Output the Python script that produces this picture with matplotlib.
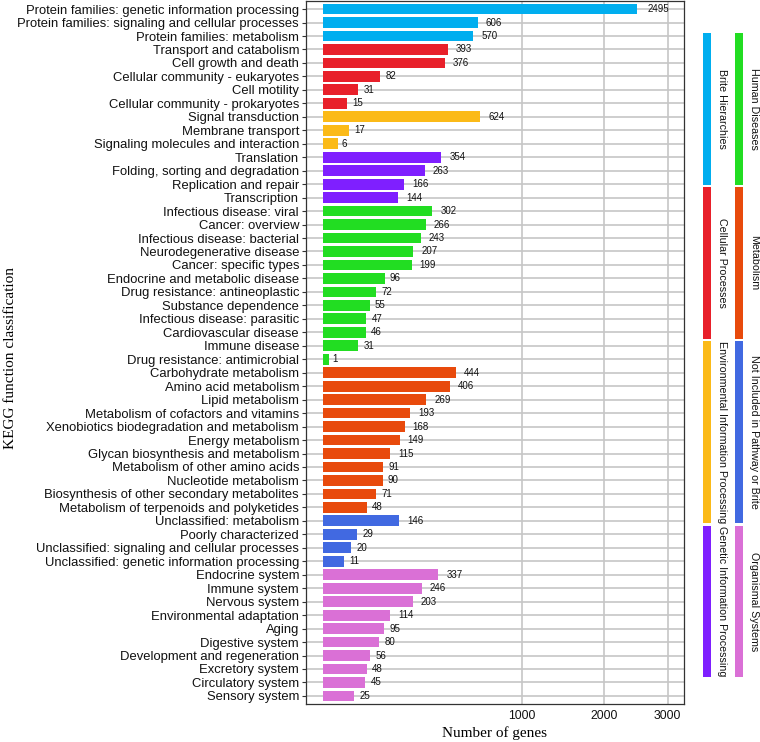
import numpy as np
import matplotlib
matplotlib.use("Agg")
import matplotlib.pyplot as plt
from matplotlib.patches import Rectangle

# ---------------- data ----------------
groups = ["Brite Hierarchies", "Cellular Processes",
          "Environmental Information Processing", "Genetic Information Processing",
          "Human Diseases", "Metabolism",
          "Not Included in Pathway or Brite", "Organismal Systems"]
group_colors = ["#00AEEF", "#E8202A", "#FBBA18", "#7F1FFF",
                "#22DD22", "#E84A0C", "#4169E1", "#DA70D6"]

categories = [
    "Protein families: genetic information processing",
    "Protein families: signaling and cellular processes",
    "Protein families: metabolism",
    "Transport and catabolism", "Cell growth and death",
    "Cellular community - eukaryotes", "Cell motility",
    "Cellular community - prokaryotes",
    "Signal transduction", "Membrane transport",
    "Signaling molecules and interaction",
    "Translation", "Folding, sorting and degradation",
    "Replication and repair", "Transcription",
    "Infectious disease: viral", "Cancer: overview",
    "Infectious disease: bacterial", "Neurodegenerative disease",
    "Cancer: specific types", "Endocrine and metabolic disease",
    "Drug resistance: antineoplastic", "Substance dependence",
    "Infectious disease: parasitic", "Cardiovascular disease",
    "Immune disease", "Drug resistance: antimicrobial",
    "Carbohydrate metabolism", "Amino acid metabolism", "Lipid metabolism",
    "Metabolism of cofactors and vitamins",
    "Xenobiotics biodegradation and metabolism", "Energy metabolism",
    "Glycan biosynthesis and metabolism", "Metabolism of other amino acids",
    "Nucleotide metabolism", "Biosynthesis of other secondary metabolites",
    "Metabolism of terpenoids and polyketides",
    "Unclassified: metabolism", "Poorly characterized",
    "Unclassified: signaling and cellular processes",
    "Unclassified: genetic information processing",
    "Endocrine system", "Immune system", "Nervous system",
    "Environmental adaptation", "Aging", "Digestive system",
    "Development and regeneration", "Excretory system",
    "Circulatory system", "Sensory system",
]
values = [2495, 606, 570,
          393, 376, 82, 31, 15,
          624, 17, 6,
          354, 263, 166, 144,
          302, 266, 243, 207, 199, 96, 72, 55, 47, 46, 31, 1,
          444, 406, 269, 193, 168, 149, 115, 91, 90, 71, 48,
          146, 29, 20, 11,
          337, 246, 203, 114, 95, 80, 56, 48, 45, 25]
group_index = ([0] * 3 + [1] * 5 + [2] * 3 + [3] * 4 + [4] * 12 +
               [5] * 11 + [6] * 4 + [7] * 10)
x_ticks = [1000, 2000, 3000]

# legend layout: (column, row) for each group
legend_col = [0, 0, 0, 0, 1, 1, 1, 1]
legend_row = [0, 1, 2, 3, 0, 1, 2, 3]

# ---------------- figure ----------------
W, H = 760, 742
fig = plt.figure(figsize=(W / 100, H / 100), dpi=100)
ax = fig.add_axes([306 / W, 1 - 704 / H, (684 - 306) / W, (704 - 1) / H])

def fwd(x):
    x = np.asarray(x, dtype=float)
    return np.sign(x) * np.sqrt(np.abs(x))

def inv(y):
    y = np.asarray(y, dtype=float)
    return np.sign(y) * y ** 2

ax.set_xscale("function", functions=(fwd, inv))

n = len(categories)
ypos = np.arange(n)
cols = [group_colors[g] for g in group_index]

ax.barh(ypos, values, height=0.8, left=0, color=cols, edgecolor="none", zorder=3)

for y, v in zip(ypos, values):
    s = str(v)
    off_px = 2.65 * len(s)
    ax.annotate(s, (v, y), xytext=(off_px * 72 / 100, 0), textcoords="offset points",
                ha="left", va="center", fontsize=7, family="Liberation Sans",
                color="#111111", zorder=4)

ax.set_ylim(n - 1 + 0.6, -0.6)
ax.set_xlim(-7.3, 3294)
ax.set_yticks(ypos)
ax.set_yticklabels(categories, fontsize=9.35, family="Liberation Sans", color="#111111")
ax.set_xticks(x_ticks)
ax.set_xticklabels([str(t) for t in x_ticks], fontsize=8.8, family="Liberation Sans",
                   color="#111111")
ax.xaxis.set_minor_locator(matplotlib.ticker.NullLocator())
ax.tick_params(axis="y", length=3, width=0.8, color="#333333", pad=2)
ax.tick_params(axis="x", length=0, pad=4)

ax.grid(True, color="#C6C6C6", linewidth=1.2, zorder=0)
ax.set_axisbelow(True)
for sp in ax.spines.values():
    sp.set_color("#333333")
    sp.set_linewidth(0.9)

ax.set_xlabel("Number of genes", family="Liberation Serif", fontsize=11, labelpad=3)
fig.text(11 / W, 1 - 358 / H, "KEGG function classification", family="Liberation Serif",
         fontsize=11, rotation=90, ha="center", va="center")

# ---------------- legend (colour strips) ----------------
row_spans = [(33, 185), (187, 339), (341, 523), (526, 677)]
strip_x = [703, 735]
text_x = [722, 754]
for g, name in enumerate(groups):
    c, r = legend_col[g], legend_row[g]
    y0, y1 = row_spans[r]
    fig.patches.append(Rectangle((strip_x[c] / W, 1 - y1 / H), 8 / W, (y1 - y0) / H,
                                 transform=fig.transFigure, facecolor=group_colors[g],
                                 edgecolor="none"))
    fig.text(text_x[c] / W, 1 - (y0 + y1) / 2 / H, name, rotation=270,
             ha="center", va="center", fontsize=7.7, family="Liberation Sans",
             color="#111111")

fig.savefig("out.png", dpi=100)
